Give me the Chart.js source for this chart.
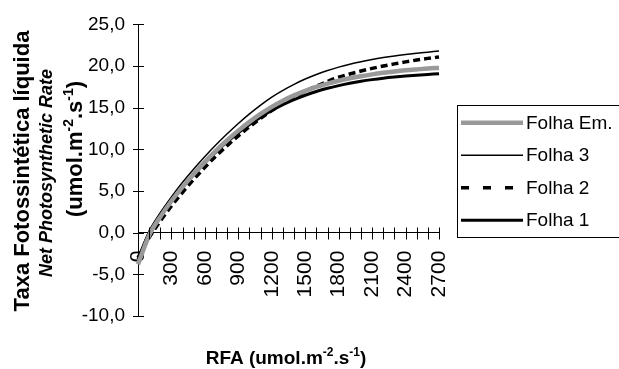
<!DOCTYPE html>
<html><head><meta charset="utf-8">
<script src="https://cdn.jsdelivr.net/npm/chart.js@4.4.1/dist/chart.umd.min.js"></script>
<style>html,body{margin:0;padding:0;background:#fff;overflow:hidden}#wrap{width:619px;height:369px;position:relative}</style>
</head><body><div id="wrap"><canvas id="c" width="619" height="369"></canvas></div>
<script>
// ---- data ----
const rfa = [0,100,200,300,400,500,600,700,800,900,1000,1100,1200,1300,1400,1500,1600,1700,1800,1900,2000,2100,2200,2300,2400,2500,2600,2700];
const folhaEm = [-3.8,-0.3,1.9,3.8,5.5,7.05,8.5,9.85,11.1,12.25,13.3,14.25,15.1,15.84,16.48,17.03,17.5,17.9,18.24,18.53,18.78,19.0,19.19,19.35,19.49,19.6,19.7,19.78];
const folha3 = [-3.0,0.2,2.4,4.3,6.05,7.65,9.15,10.55,11.87,13.11,14.26,15.32,16.28,17.09,17.81,18.44,18.99,19.46,19.87,20.22,20.52,20.79,21.02,21.22,21.39,21.54,21.67,21.8];
const folha2 = [-3.0,-0.6,1.4,3.2,4.85,6.4,7.85,9.2,10.45,11.62,12.71,13.72,14.65,15.5,16.27,16.97,17.6,18.16,18.66,19.05,19.4,19.72,20.0,20.26,20.5,20.72,20.92,21.1];
const folha1 = [-3.2,0.0,2.1,3.9,5.5,7.0,8.4,9.7,10.9,12.0,12.98,13.87,14.67,15.37,15.98,16.5,16.95,17.33,17.65,17.93,18.17,18.37,18.54,18.68,18.8,18.91,19.0,19.09];
const seriesNames = ['Folha Em.','Folha 3','Folha 2','Folha 1'];
const xLabelEvery = 300;
const yMin = -10, yMax = 25, yStep = 5;
const yTitleMain = 'Taxa Fotossintética líquida';
const yTitleSub = 'Net Photosynthetic Rate';
const unitParts = [['(umol.m',0],['-2',1],['.s',0],['-1',1],[')',0]];
const xTitleParts = [['RFA (umol.m',0],['-2',1],['.s',0],['-1',1],[')',0]];

const FONT = "'Liberation Sans', Arial, Helvetica, sans-serif";

function richWidth(ctx, parts, size, supSize, weight){
  let w=0;
  for(const [t,s] of parts){ctx.font=`${weight} ${s?supSize:size}px ${FONT}`; w+=ctx.measureText(t).width;}
  return w;
}
function drawRich(ctx, parts, size, supSize, weight){
  const total = richWidth(ctx, parts, size, supSize, weight);
  let x = -total/2;
  ctx.textAlign='left'; ctx.textBaseline='alphabetic';
  for(const [t,s] of parts){
    ctx.font=`${weight} ${s?supSize:size}px ${FONT}`;
    ctx.fillText(t, x, s ? -size*0.42 : 0);
    x += ctx.measureText(t).width;
  }
}

const decor = {
  id:'decor',
  afterDraw(chart){
    const ctx = chart.ctx;
    const xs = chart.scales.x, ys = chart.scales.y;
    const area = chart.chartArea;
    ctx.save();
    ctx.strokeStyle='#000'; ctx.lineWidth=1;
    // y axis crossing ticks
    ys.ticks.forEach(t=>{
      const py = Math.round(ys.getPixelForValue(t.value))+0.5;
      ctx.beginPath(); ctx.moveTo(area.left-5, py); ctx.lineTo(area.left+6, py); ctx.stroke();
    });
    // x axis crossing ticks
    const y0 = Math.round(ys.getPixelForValue(0))+0.5;
    xs.ticks.forEach((t,i)=>{
      const px = Math.round(xs.getPixelForTick(i))+0.5;
      ctx.beginPath(); ctx.moveTo(px, y0-6); ctx.lineTo(px, y0+6); ctx.stroke();
    });
    // legend
    const lx = 457, ly = 105, lb = 237;
    ctx.strokeRect(lx+0.5, ly+0.5, 200, lb-ly);
    const rows = [122.7,155.2,187.7,220.2];
    chart.data.datasets.forEach((ds,i)=>{
      const yy = rows[i];
      ctx.save();
      ctx.strokeStyle = ds.borderColor;
      ctx.lineWidth = ds.borderWidth;
      ctx.setLineDash(ds.legendDash || []);
      ctx.lineCap='butt';
      ctx.beginPath(); ctx.moveTo(461, yy); ctx.lineTo(523, yy); ctx.stroke();
      ctx.restore();
      ctx.fillStyle='#000';
      ctx.font=`19px ${FONT}`;
      ctx.textAlign='left'; ctx.textBaseline='middle';
      ctx.fillText(ds.label, 526, yy+1);
    });
    // y titles
    ctx.fillStyle='#000';
    ctx.save(); ctx.translate(29,171); ctx.rotate(-Math.PI/2);
    ctx.font=`bold 22px ${FONT}`; ctx.textAlign='center'; ctx.textBaseline='alphabetic';
    ctx.fillText(yTitleMain,0,0); ctx.restore();
    ctx.save(); ctx.translate(52,173); ctx.rotate(-Math.PI/2);
    ctx.font=`italic bold 18px ${FONT}`; ctx.textAlign='center'; ctx.textBaseline='alphabetic';
    ctx.fillText(yTitleSub,0,0); ctx.restore();
    ctx.save(); ctx.translate(82,149); ctx.rotate(-Math.PI/2);
    drawRich(ctx, unitParts, 22, 14, 'bold'); ctx.restore();
    // x title
    ctx.save(); ctx.translate(286,364);
    drawRich(ctx, xTitleParts, 19, 12, 'bold'); ctx.restore();
    ctx.restore();
  }
};

new Chart(document.getElementById('c'), {
  type:'line',
  data:{
    labels: rfa,
    datasets:[
      {label:seriesNames[0], data:folhaEm, borderColor:'#999999', borderWidth:4.5, legendDash:[]},
      {label:seriesNames[1], data:folha3, borderColor:'#000000', borderWidth:1.5, legendDash:[]},
      {label:seriesNames[2], data:folha2, borderColor:'#000000', borderWidth:3.5, borderDash:[7,4], legendDash:[8,14]},
      {label:seriesNames[3], data:folha1, borderColor:'#000000', borderWidth:3, legendDash:[]}
    ].map(d=>Object.assign(d,{pointRadius:0, fill:false, cubicInterpolationMode:'monotone', clip:false}))
  },
  options:{
    responsive:false, animation:false, devicePixelRatio:1,
    layout:{padding:{left:0, right:180, top:21, bottom:53}},
    plugins:{legend:{display:false}, tooltip:{enabled:false}},
    scales:{
      x:{
        type:'category', offset:false, position:{y:0},
        grid:{display:true, drawOnChartArea:false, drawTicks:false},
        border:{display:true, color:'#000', width:1},
        ticks:{autoSkip:false, minRotation:90, maxRotation:90, padding:18, color:'#000',
          font:{family:FONT, size:21},
          callback:function(v,i){ const l = rfa[i]; return (l % xLabelEvery === 0) ? String(l) : ''; }}
      },
      y:{
        min:yMin, max:yMax,
        grid:{display:true, drawOnChartArea:false, drawTicks:false},
        border:{display:true, color:'#000', width:1},
        ticks:{stepSize:yStep, padding:13, color:'#000', font:{family:FONT, size:19},
          callback:v=>v.toFixed(1).replace('.',',')},
        afterFit(s){ s.width = 138; }
      }
    }
  },
  plugins:[decor]
});
</script></body></html>
